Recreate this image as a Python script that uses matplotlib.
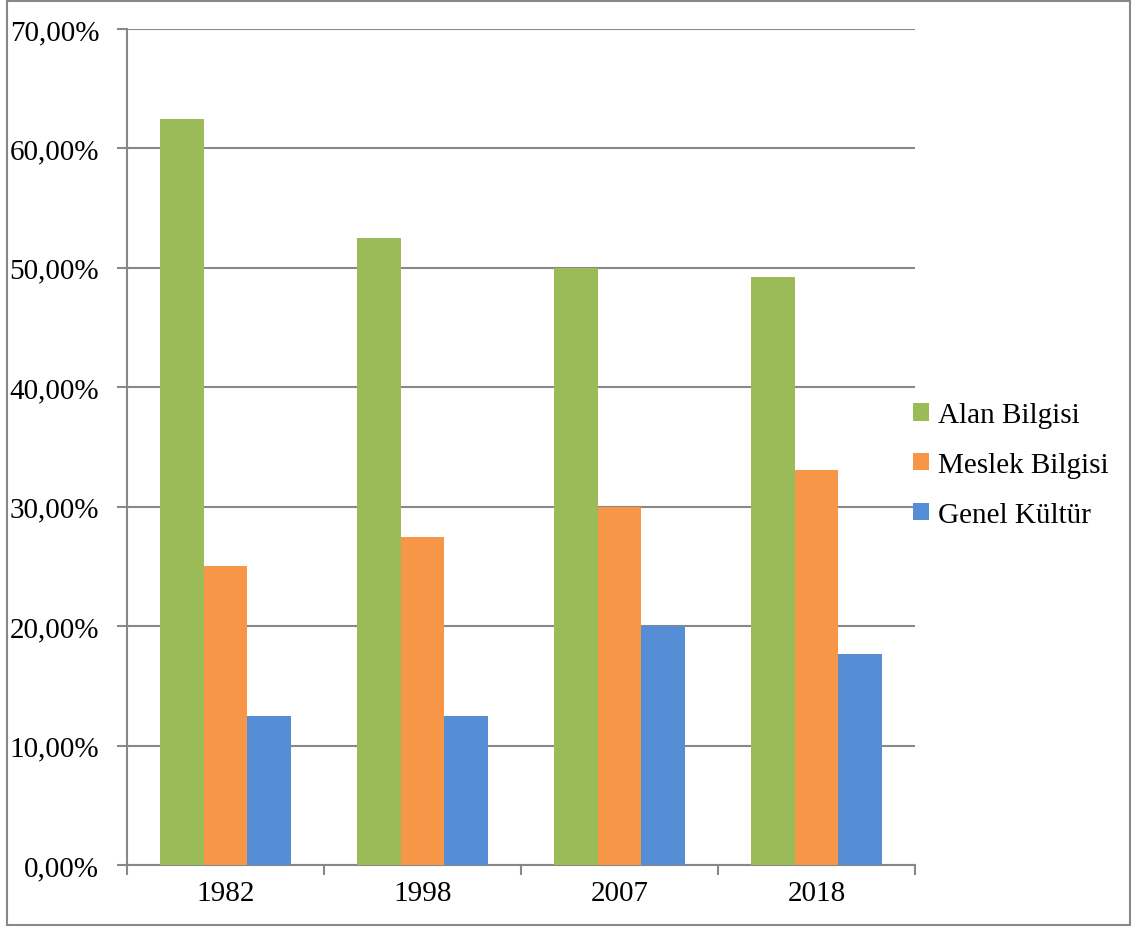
import matplotlib
matplotlib.use("Agg")
import matplotlib.pyplot as plt
import numpy as np
from matplotlib.patches import Rectangle
from matplotlib.ticker import FuncFormatter, FixedLocator

years = ["1982", "1998", "2007", "2018"]
series_names = ["Alan Bilgisi", "Meslek Bilgisi", "Genel Kültür"]
alan = [62.5, 52.5, 50.0, 49.2]
meslek = [25.0, 27.5, 30.0, 33.1]
genel = [12.5, 12.5, 20.0, 17.7]
colors = ["#9BBB59", "#F79646", "#558ED5"]

plt.rcParams['font.family'] = ['Liberation Serif', 'DejaVu Serif']

fig = plt.figure(figsize=(11.32, 9.29), dpi=100)
ax = fig.add_axes([127/1132, 63/929, (915-127)/1132, (866-30)/929])

x = np.arange(len(years))
w = 0.2233
for i, (vals, name, c) in enumerate(zip([alan, meslek, genel], series_names, colors)):
    ax.bar(x + (i - 1) * w, vals, width=w, color=c, label=name, zorder=3)

ax.set_xlim(-0.5, 3.5)
ax.set_ylim(0, 70)
ax.set_yticks(np.arange(0, 71, 10))
ax.yaxis.set_major_formatter(FuncFormatter(lambda v, p: f"{v:.2f}".replace(".", ",") + "%"))
ax.grid(axis='y', color='#888888', linewidth=1.5, zorder=0)
ax.set_axisbelow(True)

ax.set_xticks(x)
ax.set_xticklabels(years)
ax.xaxis.set_minor_locator(FixedLocator([-0.5, 0.5, 1.5, 2.5, 3.5]))
ax.tick_params(axis='x', which='major', length=0, pad=11, labelsize=21)
ax.tick_params(axis='x', which='minor', length=7, width=1.5, color='#888888', direction='out')
ax.tick_params(axis='y', length=7, width=1.5, color='#888888', pad=13, labelsize=21)

for s in ['top', 'right']:
    ax.spines[s].set_visible(False)
for s in ['left', 'bottom']:
    ax.spines[s].set_color('#888888')
    ax.spines[s].set_linewidth(1.5)

leg = fig.legend(loc='center left', bbox_to_anchor=(913/1132, 1 - 466/929),
                 frameon=False, fontsize=21, handlelength=0.55, handleheight=0.55,
                 handletextpad=0.3, labelspacing=0.82, borderpad=0, borderaxespad=0)

fig.patches.append(Rectangle((7/1132, 3/929), (1130-7)/1132, (927-3)/929,
                             transform=fig.transFigure, fill=False,
                             edgecolor='#888888', linewidth=1.5))

fig.savefig("out.png", dpi=100)
